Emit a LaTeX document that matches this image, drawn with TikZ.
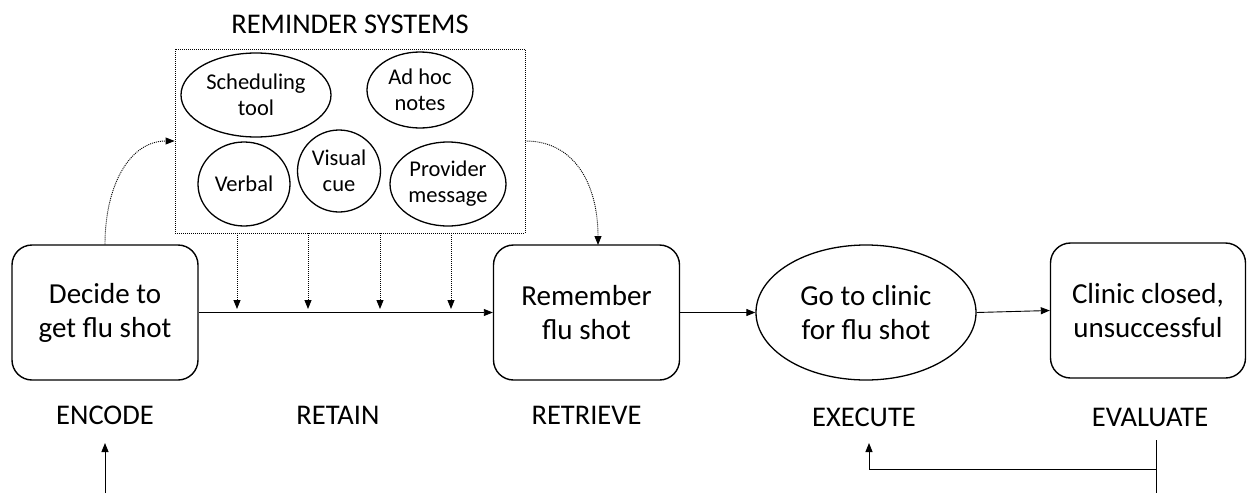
\documentclass[tikz,border=0pt]{standalone}
\usepackage{fontspec}
\setmainfont{Carlito}
\usetikzlibrary{shapes.geometric,arrows.meta,calc}
\begin{document}
\begin{tikzpicture}[x=1pt,y=-1pt,
  box/.style={draw, line width=1.4pt, rounded corners=20pt, minimum width=186pt, minimum height=135pt, align=center, font=\fontsize{29}{34}\selectfont},
  oval/.style={draw, ellipse, line width=1.3pt, inner sep=0pt, align=center, font=\fontsize{22.5}{26}\selectfont},
  lbl/.style={font=\fontsize{28.5}{33}\selectfont},
  arr/.style={line width=0.9pt, -{Triangle[length=9pt,width=7pt]}},
  dots/.style={line width=0.9pt, dash pattern=on 1pt off 1pt},
]
\useasboundingbox (0,0) rectangle (1248,493);
% main boxes
\node[box] (dec) at (105,312.5) {Decide to\\get flu shot};
\node[box] (rem) at (586.5,312.5) {Remember\\flu shot};
\node[draw, ellipse, line width=1.3pt, minimum width=220pt, minimum height=135pt, inner sep=0pt, align=center, font=\fontsize{29}{34}\selectfont] (go) at (866,312.5) {Go to clinic\\for flu shot};
\node[box, minimum width=195pt] (cli) at (1148,310.5) {Clinic closed,\\unsuccessful};
% labels
\node[lbl] (enc) at (105,415) {ENCODE};
\node[lbl] (ret) at (338,415) {RETAIN};
\node[lbl] (rtv) at (586.5,415) {RETRIEVE};
\node[lbl] (exe) at (864,417) {EXECUTE};
\node[lbl] (eva) at (1150,417) {EVALUATE};
% reminder systems
\node[lbl] (rst) at (350,24) {REMINDER SYSTEMS};
\node[dots, draw, minimum width=350pt, minimum height=184pt, inner sep=0pt] (rs) at (350,141) {};
\node[oval, minimum width=150pt, minimum height=84pt] (sch) at (256,95) {Scheduling\\tool};
\node[oval, minimum width=106pt, minimum height=76pt] (adh) at (420,90) {Ad hoc\\notes};
\node[oval, minimum width=92pt, minimum height=84pt] (ver) at (244,184) {Verbal};
\node[oval, minimum width=83pt, minimum height=82pt] (vis) at (339,171) {Visual\\cue};
\node[oval, minimum width=116pt, minimum height=84pt] (pro) at (448,184) {Provider\\message};
% curves
\draw[dots, -{Triangle[length=9pt,width=7pt]}] (dec.north) .. controls (105,185) and (130,141) .. (rs.west);
\coordinate (remt) at (598,245);
\draw[dots, -{Triangle[length=9pt,width=7pt]}] (rs.east) .. controls (575,141) and (598,185) .. (remt);
% vertical reminder arrows
\foreach \x [count=\i] in {237,308,380,451}{
  \coordinate (t\i) at (\x,309);
  \draw[dots, -{Triangle[length=9pt,width=7pt]}] (rs.south -| t\i) -- (t\i);
}
% main flow
\draw[arr] (dec.east) -- (rem.west);
\draw[arr] (rem.east) -- (go.west);
\draw[arr] (go.east) -- (cli.west);
% bottom arrows
\coordinate (encb) at (105,493);
\coordinate (enct) at (105,443);
\draw[arr] (encb) -- (enct);
\coordinate (fb1) at (1156,440);
\coordinate (fb2) at (1156,493);
\coordinate (fbm) at (1156,469);
\coordinate (ext) at (869,443);
\draw[line width=0.9pt] (fb1) -- (fb2);
\draw[arr] (fbm) -| (ext);
\end{tikzpicture}
\end{document}
